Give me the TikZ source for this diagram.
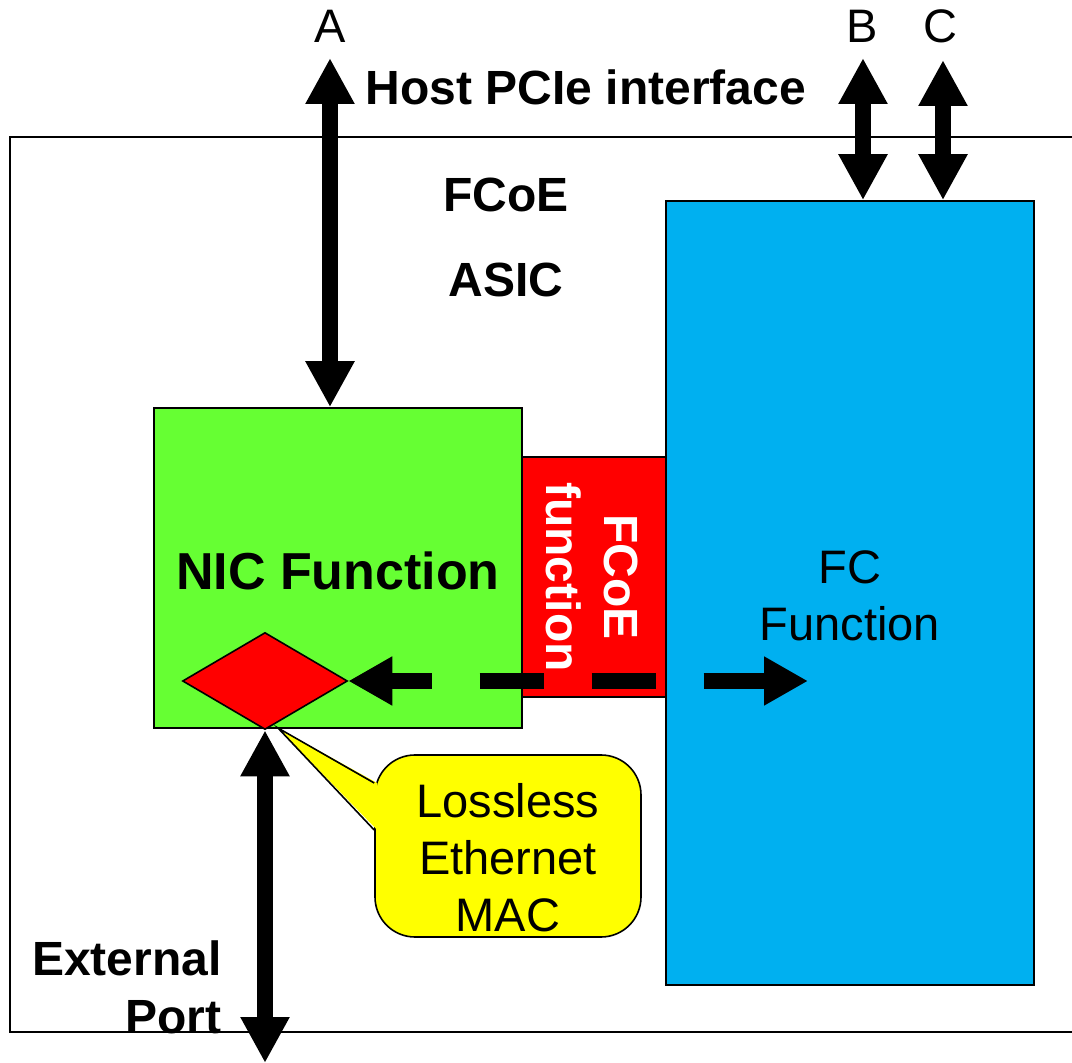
\documentclass[tikz,border=0pt]{standalone}
\usepackage{fontspec}
\setmainfont{Liberation Sans}
\usetikzlibrary{arrows.meta,shapes.geometric}
\definecolor{nicgreen}{HTML}{66FF33}
\definecolor{fcoered}{HTML}{FF0000}
\definecolor{fcblue}{HTML}{00B0F0}
\definecolor{calloutyellow}{HTML}{FFFF00}
\begin{document}
\begin{tikzpicture}[x=0.5pt,y=-0.5pt,
  box/.style={draw=black,line width=0.8pt,inner sep=0pt},
  reg/.style={font=\fontsize{23.5}{28.5}\selectfont,inner sep=0pt,align=center},
  bld/.style={font=\bfseries\fontsize{24}{29}\selectfont,inner sep=0pt,align=center},
  bigtip/.tip={Triangle[width=23pt,length=23pt]},
  bigarrow/.style={line width=8pt,{bigtip}-{bigtip}},
]
\useasboundingbox (0,0) rectangle (1072,1063);
% ASIC frame
\draw[line width=1pt] (1080,137) -- (10,137) -- (10,1032) -- (1080,1032);
% blocks
\node[box,fill=fcblue,minimum width=184pt,minimum height=392pt] (fc) at (850,593) {};
\node[box,fill=nicgreen,minimum width=184pt,minimum height=160pt] (nic) at (338,568) {};
\node[box,fill=fcoered,minimum width=72pt,minimum height=120pt] (fcoe) at (594,577) {};
% texts
\node[bld,anchor=base] (hostpcie) at (586,105) {Host PCIe interface};
\node[reg,anchor=base] (lblA) at (330,43) {A};
\node[reg,anchor=base] (lblB) at (862,43) {B};
\node[reg,anchor=base] (lblC) at (940,43) {C};
\node[bld,anchor=base] (fcoeT) at (506,212) {FCoE};
\node[bld,anchor=base] (asicT) at (506,297) {ASIC};
\node[font=\bfseries\fontsize{26}{31}\selectfont,inner sep=0pt,anchor=base] (nicT) at (338,590) {NIC Function};
\node[bld,text=white,rotate=-90] (fcoefT) at (592,577) {FCoE\\function};
\node[reg] (fcT) at (850,596) {FC\\Function};
\node[bld,align=right,anchor=east] (extT) at (222,987) {External\\Port};
% MAC diamond
\node[draw=black,line width=0.8pt,fill=fcoered,diamond,minimum width=82.5pt,minimum height=48.5pt,inner sep=0pt] (mac) at (265,681) {};
% dashed FCoE path
\coordinate (fcEnd) at (808,681);
\draw[line width=8pt,dash pattern=on 32pt off 24pt,dash phase=11pt,{Triangle[width=23pt,length=22pt]}-{Triangle[width=23pt,length=22pt]}] (mac.east) -- (fcEnd);
% big arrows
\coordinate (aTop) at (330,58);
\draw[bigarrow] (aTop) -- (aTop |- nic.north);
\coordinate (bTop) at (863,58);
\draw[bigarrow] (bTop) -- (bTop |- fc.north);
\coordinate (cTop) at (943,60);
\draw[bigarrow] (cTop) -- (cTop |- fc.north);
\coordinate (portEnd) at (265,1063);
\draw[bigarrow] (mac.south) -- (portEnd);
% callout
\node[draw=black,line width=0.8pt,fill=calloutyellow,rounded corners=20pt,minimum width=133pt,minimum height=91pt,inner sep=0pt] (callout) at (508,846) {};
\coordinate (ptip) at (278,728);
\fill[calloutyellow] ([xshift=1.5pt,yshift=31.5pt]callout.west) -- (ptip) -- ([xshift=1.5pt,yshift=8pt]callout.west) -- cycle;
\draw[line width=0.8pt] ([yshift=31.5pt]callout.west) -- (ptip) -- ([yshift=8pt]callout.west);
\node[reg] (macT) at (508,858) {Lossless\\Ethernet\\MAC};
\end{tikzpicture}
\end{document}
